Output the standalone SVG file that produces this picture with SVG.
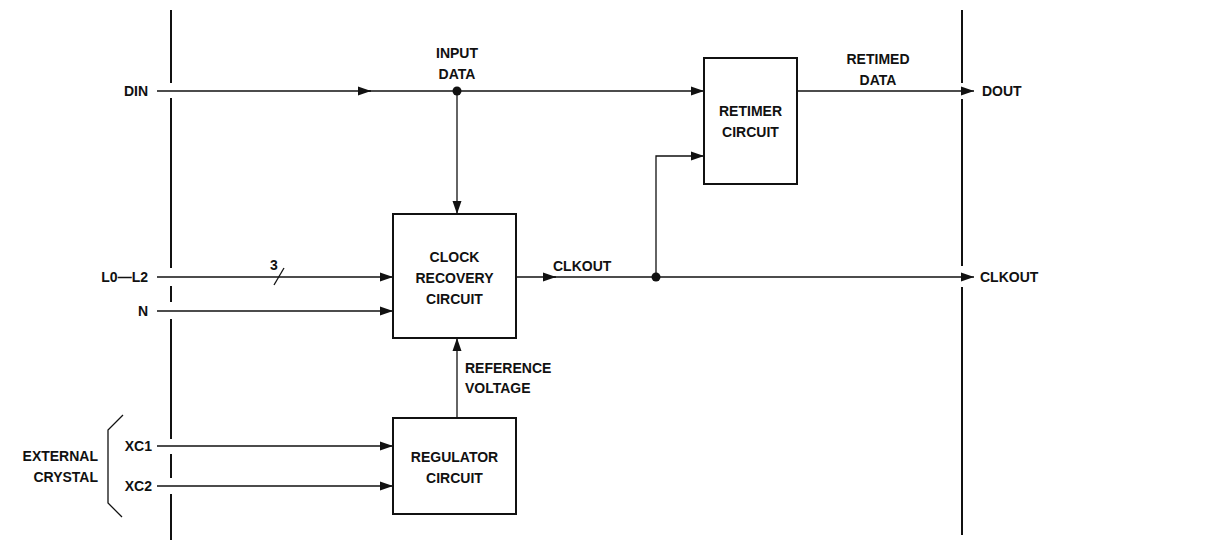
<svg xmlns="http://www.w3.org/2000/svg" width="1210" height="540" viewBox="0 0 1210 540">
<style>
text{font-family:"Liberation Sans",Arial,sans-serif;font-weight:bold;font-size:14px;fill:#111}
.box{fill:#fff;stroke:#111;stroke-width:2}
.w{fill:none;stroke:#111;stroke-width:1.3}
.b{fill:none;stroke:#111;stroke-width:2}
.mid{text-anchor:middle}
.end{text-anchor:end}
</style>
<defs>
<marker id="ah" markerWidth="14" markerHeight="12" refX="13" refY="6" orient="auto" markerUnits="userSpaceOnUse">
<path d="M0,1.5 L13,6 L0,10.5 Z" fill="#111"/>
</marker>
</defs>
<g id="boundaries">
<path class="b" d="M171,10 V83 M171,98 V268 M171,286 V302 M171,319 V439 M171,454 V478 M171,494 V540"/>
<path class="b" d="M962,10 V83 M962,99 V266 M962,287 V535"/>
<path class="w" d="M123,415 L108,430 V503 L122,517"/>
</g>
<g id="connectors">
<path class="w" d="M157,91 H371" marker-end="url(#ah)"/>
<path class="w" d="M368,91 H704" marker-end="url(#ah)"/>
<path class="w" d="M457,91 V214" marker-end="url(#ah)"/>
<circle cx="457" cy="91" r="4.5" fill="#111"/>
<path class="w" d="M797,91 H974" marker-end="url(#ah)"/>
<path class="w" d="M157,277 H393" marker-end="url(#ah)"/>
<path class="w" d="M274,285 L284,268"/>
<path class="w" d="M157,311 H393" marker-end="url(#ah)"/>
<path class="w" d="M157,446 H393" marker-end="url(#ah)"/>
<path class="w" d="M157,486 H393" marker-end="url(#ah)"/>
<path class="w" d="M457,418 V338" marker-end="url(#ah)"/>
<path class="w" d="M516,277 H556" marker-end="url(#ah)"/>
<path class="w" d="M553,277 H974" marker-end="url(#ah)"/>
<path class="w" d="M656,277 V156 H704" marker-end="url(#ah)"/>
<circle cx="656" cy="277" r="4.5" fill="#111"/>
</g>
<g id="clock-recovery">
<rect class="box" x="393" y="214" width="123" height="124"/>
<text class="mid" x="454.5" y="262">CLOCK</text>
<text class="mid" x="454.5" y="283">RECOVERY</text>
<text class="mid" x="454.5" y="304">CIRCUIT</text>
</g>
<g id="regulator">
<rect class="box" x="393" y="418" width="123" height="96"/>
<text class="mid" x="454.5" y="462">REGULATOR</text>
<text class="mid" x="454.5" y="483">CIRCUIT</text>
</g>
<g id="retimer">
<rect class="box" x="704" y="58" width="93" height="126"/>
<text class="mid" x="750.5" y="116">RETIMER</text>
<text class="mid" x="750.5" y="137">CIRCUIT</text>
</g>
<g id="labels">
<text class="end" x="148" y="96">DIN</text>
<text class="end" x="148" y="282">L0—L2</text>
<text class="end" x="148" y="316">N</text>
<text class="end" x="152" y="451">XC1</text>
<text class="end" x="152" y="491">XC2</text>
<text class="end" x="98" y="461">EXTERNAL</text>
<text class="end" x="98" y="482">CRYSTAL</text>
<text x="270" y="270">3</text>
<text class="mid" x="457" y="58">INPUT</text>
<text class="mid" x="457" y="79">DATA</text>
<text class="mid" x="878" y="64">RETIMED</text>
<text class="mid" x="878" y="85">DATA</text>
<text x="982" y="96">DOUT</text>
<text x="553" y="271">CLKOUT</text>
<text x="980" y="282">CLKOUT</text>
<text x="465" y="373">REFERENCE</text>
<text x="465" y="393">VOLTAGE</text>
</g>
</svg>
